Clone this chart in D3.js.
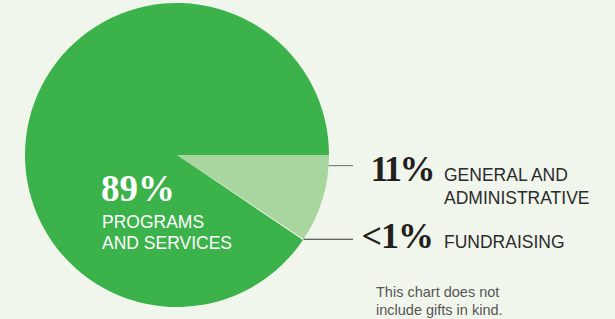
<!DOCTYPE html>
<html>
<head>
<meta charset="utf-8">
<script src="https://cdn.jsdelivr.net/npm/d3@7"></script>
<style>
  body { margin: 0; background: #f1f6ec; }
  svg { display: block; }
</style>
</head>
<body>
<script>
// Slice data (drawn share, label text as printed)
var categories = ["General and administrative", "Fundraising", "Programs and services"];
var shares = [9.35, 0.1, 90.55];
var pctLabels = ["11%", "<1%", "89%"];
var nameLines = [["GENERAL AND", "ADMINISTRATIVE"], ["FUNDRAISING"], ["PROGRAMS", "AND SERVICES"]];
var colors = ["#a9d69e", "#ffffff", "#3cb24a"];
var footnote = ["This chart does not", "include gifts in kind."];

var width = 615, height = 319;
var cx = 177, cy = 155, radius = 152;

var svg = d3.select("body").append("svg")
  .attr("width", width)
  .attr("height", height);

svg.append("rect").attr("width", width).attr("height", height).attr("fill", "#f1f6ec");

var pie = d3.pie().sort(null)
  .startAngle(Math.PI / 2)
  .endAngle(Math.PI / 2 + 2 * Math.PI);

var arc = d3.arc().innerRadius(0).outerRadius(radius);
var arcs = pie(shares);

var g = svg.append("g").attr("transform", "translate(" + cx + "," + cy + ")");

g.selectAll("path")
  .data(arcs)
  .enter()
  .append("path")
  .attr("d", arc)
  .attr("fill", function(d, i) { return colors[i]; })
  .attr("stroke", "none");

// leader lines from the rim to the labels on the right
var labelX = 353;
function rimPoint(angle) {
  return [cx + radius * Math.sin(angle), cy - radius * Math.cos(angle)];
}
var p1 = rimPoint(arcs[0].startAngle + 0.07);
var p2 = rimPoint(arcs[1].startAngle);
svg.append("line")
  .attr("x1", p1[0]).attr("y1", p1[1]).attr("x2", labelX).attr("y2", p1[1])
  .attr("stroke", "#6b6b6b").attr("stroke-width", 1);
svg.append("line")
  .attr("x1", p2[0]).attr("y1", p2[1]).attr("x2", labelX).attr("y2", p2[1])
  .attr("stroke", "#333").attr("stroke-width", 1);

var serif = "'Liberation Serif', 'DejaVu Serif', serif";
var sans = "'Liberation Sans', Arial, sans-serif";

// right-hand labels
var rightRows = [
  { idx: 0, y: 181, spacing: -2.5 },
  { idx: 1, y: 248, spacing: -1 }
];
rightRows.forEach(function(r) {
  svg.append("text")
    .attr("x", 433).attr("y", r.y)
    .attr("text-anchor", "end")
    .attr("font-family", serif).attr("font-weight", "bold")
    .attr("font-size", 36).attr("letter-spacing", r.spacing)
    .attr("fill", "#231f20")
    .text(pctLabels[r.idx]);
  nameLines[r.idx].forEach(function(line, k) {
    svg.append("text")
      .attr("x", 444).attr("y", r.y + k * 22.5)
      .attr("font-family", sans).attr("font-size", 17.5)
      .attr("fill", "#2b2b2b")
      .text(line);
  });
});

// label inside the big slice
svg.append("text")
  .attr("x", 101).attr("y", 201)
  .attr("font-family", serif).attr("font-weight", "bold")
  .attr("font-size", 37).attr("letter-spacing", 0)
  .attr("fill", "#ffffff")
  .text(pctLabels[2]);
nameLines[2].forEach(function(line, k) {
  svg.append("text")
    .attr("x", 102).attr("y", 227.5 + k * 21.5)
    .attr("font-family", sans).attr("font-size", 17.5)
    .attr("fill", "#ffffff")
    .text(line);
});

// footnote
footnote.forEach(function(line, k) {
  svg.append("text")
    .attr("x", 376).attr("y", 296.5 + k * 18.3)
    .attr("font-family", sans).attr("font-size", 14.5)
    .attr("fill", "#555555")
    .text(line);
});
</script>
</body>
</html>
